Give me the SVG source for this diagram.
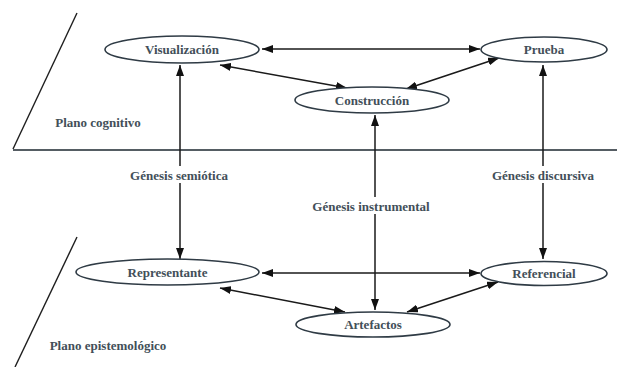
<svg xmlns="http://www.w3.org/2000/svg" width="617" height="367" viewBox="0 0 617 367">
<style>
.node ellipse{fill:#fff;stroke:#2f3b45;stroke-width:1.6}
text{font-family:"Liberation Serif","DejaVu Serif",serif;font-weight:bold;font-size:13px;fill:#434f59;text-anchor:middle}
.plane{stroke:#1e1e1e;stroke-width:1.4;fill:none}
.base{stroke:#555d63;stroke-width:2;fill:none}
.conn line{stroke:#1a1a1a;stroke-width:1.5;fill:none}
.bi{marker-start:url(#ah);marker-end:url(#ah)}
.lbl rect{fill:#fff}
</style>
<defs>
<marker id="ah" markerUnits="userSpaceOnUse" markerWidth="11" markerHeight="8" refX="11" refY="4" orient="auto-start-reverse">
<path d="M0,0 L11,4 L0,8 z" fill="#111"/>
</marker>
</defs>
<rect width="617" height="367" fill="#fff"/>
<g id="planes">
<line class="plane" x1="77" y1="13" x2="13" y2="149"/>
<line class="base" x1="13" y1="150" x2="617" y2="150"/>
<line class="plane" x1="77" y1="237" x2="15" y2="367"/>
<text x="98" y="127">Plano cognitivo</text>
<text x="108" y="350">Plano epistemológico</text>
</g>
<g id="connectors" class="conn">
<line class="bi" x1="262" y1="49" x2="480" y2="49"/>
<line class="bi" x1="220" y1="65" x2="347" y2="88"/>
<line class="bi" x1="406" y1="89" x2="499" y2="58"/>
<line class="bi" x1="180" y1="65" x2="180" y2="259"/>
<line class="bi" x1="375" y1="115" x2="375" y2="310"/>
<line class="bi" x1="543" y1="65" x2="543" y2="259"/>
<line class="bi" x1="262" y1="273" x2="480" y2="273"/>
<line class="bi" x1="220" y1="288" x2="345" y2="312"/>
<line class="bi" x1="407" y1="312" x2="498" y2="282"/>
</g>
<g id="label-semiotica" class="lbl">
<rect x="123" y="166" width="112" height="17"/>
<text x="179" y="179.5">Génesis semiótica</text>
</g>
<g id="label-instrumental" class="lbl">
<rect x="305" y="197" width="132" height="17"/>
<text x="371" y="210.5">Génesis instrumental</text>
</g>
<g id="label-discursiva" class="lbl">
<rect x="485" y="166" width="117" height="17"/>
<text x="543" y="179.5">Génesis discursiva</text>
</g>
<g id="visualizacion" class="node">
<ellipse cx="182" cy="49.5" rx="77" ry="13.5"/>
<text x="182" y="54">Visualización</text>
</g>
<g id="prueba" class="node">
<ellipse cx="544" cy="49.5" rx="63" ry="12.5"/>
<text x="544" y="54">Prueba</text>
</g>
<g id="construccion" class="node">
<ellipse cx="372" cy="100" rx="77" ry="13"/>
<text x="372" y="104.5">Construcción</text>
</g>
<g id="representante" class="node">
<ellipse cx="167.5" cy="272" rx="91.5" ry="13"/>
<text x="167.5" y="276.5">Representante</text>
</g>
<g id="referencial" class="node">
<ellipse cx="544" cy="273.5" rx="63" ry="12"/>
<text x="544" y="278">Referencial</text>
</g>
<g id="artefactos" class="node">
<ellipse cx="373" cy="324.5" rx="77" ry="12.5"/>
<text x="373" y="329">Artefactos</text>
</g>
</svg>
